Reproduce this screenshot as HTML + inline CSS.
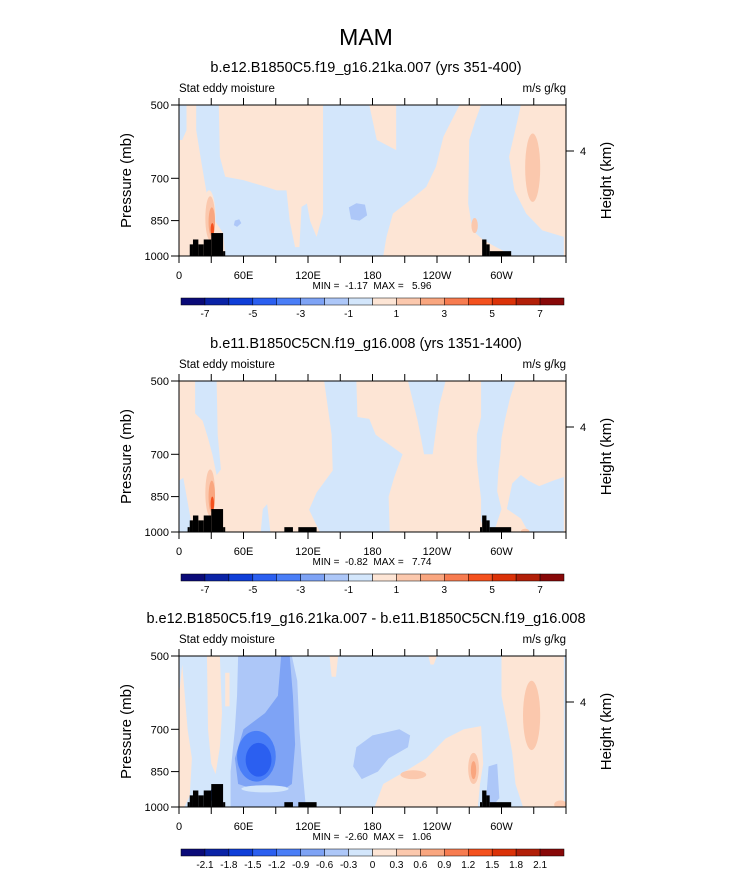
<!DOCTYPE html>
<html><head><meta charset="utf-8"><style>
body{margin:0;background:#fff;}
svg{display:block;font-family:"Liberation Sans",sans-serif;}
</style></head><body>
<svg id="fig" width="733" height="872" viewBox="0 0 733 872" xmlns="http://www.w3.org/2000/svg">
<text x="366" y="45" font-size="23" text-anchor="middle">MAM</text>
</svg>
<script>
// ---- data ----
const lonTicks = [0,60,120,180,240,300];
const lonLabels = ["0","60E","120E","180","120W","60W"];
const presTicks = [500,700,850,1000];
const panelTitles = ["b.e12.B1850C5.f19_g16.21ka.007 (yrs 351-400)","b.e11.B1850C5CN.f19_g16.008 (yrs 1351-1400)","b.e12.B1850C5.f19_g16.21ka.007 - b.e11.B1850C5CN.f19_g16.008"];
const minVals = ["-1.17","-0.82","-2.60"];
const maxVals = ["5.96","7.74","1.06"];
const cbLabels1 = ["-7","","-5","","-3","","-1","","1","","3","","5","","7"];
const cbLabels3 = ["-2.1","-1.8","-1.5","-1.2","-0.9","-0.6","-0.3","0","0.3","0.6","0.9","1.2","1.5","1.8","2.1"];
const palette = ["#0a0a78","#0a23a6","#0f3ed8","#2b5ff0","#4a7ef7","#7ea3f5","#adc7f8","#d3e6fb","#fde5d5","#fbc8ad","#f9a67f","#f77c50","#f4511e","#db3208","#b21f08","#880808"];
// topography: [lonStart, lonEnd, topPressure]
const topo1 = [[10,13,948],[13,18,927],[18,23,948],[23,30,927],[30,41,900],[41,43,978],[282,286,927],[286,289,948],[289,309,978]];
const topo2 = [[8,10,978],[10,13,948],[13,18,927],[18,23,948],[23,30,927],[30,41,900],[41,43,978],[98,106,978],[111,128,978],[280,282,978],[282,286,927],[286,289,948],[289,309,978]];
const topo3 = topo2;
// contour regions: polygons of [lon, pressure]
const bg = ["#fde5d5","#fde5d5","#d3e6fb"];
const regions1 = [
 {c:7,pts:[[0,500],[7,500],[7,561],[3,587],[0,587]]},
 {c:7,pts:[[16,500],[37,500],[38,634],[43,695],[60,706],[81,728],[91,740],[100,740],[103,852],[108,960],[112,960],[114,798],[119,786],[122,852],[128,916],[134,823],[134,500],[177,500],[184,587],[202,615],[202,500],[261,500],[246,578],[239,664],[230,728],[215,774],[199,823],[193,916],[190,1000],[43,1000],[41,900],[29,823],[21,654],[16,561]]},
 {c:7,pts:[[281,500],[318,500],[315,535],[307,634],[312,740],[323,823],[338,889],[358,916],[358,1000],[311,1000],[295,960],[283,929],[273,889],[269,786],[270,587],[276,535]]},
 {c:6,pts:[[158,800],[165,785],[173,790],[175,830],[168,850],[160,845]]},
 {c:6,pts:[[52,850],[56,845],[58,860],[54,875],[51,868]]}
];
const ellipses1 = [
 {c:9,lon:329,rx:7,p0:570,p1:780},
 {c:9,lon:275,rx:3,p0:840,p1:900},
 {c:8,lon:28,rx:6,p0:740,p1:950},
 {c:9,lon:29,rx:4.5,p0:760,p1:930},
 {c:10,lon:30.5,rx:3,p0:800,p1:915},
 {c:12,lon:31,rx:1.6,p0:860,p1:910}
];
const regions2 = [
 {c:7,pts:[[15,500],[35,500],[36,640],[39,750],[35,770],[31,700],[27,650],[22,600],[15,580]]},
 {c:7,pts:[[0,790],[4,780],[13,1000],[0,1000]]},
 {c:7,pts:[[135,500],[165,500],[166,590],[177,595],[183,640],[208,700],[200,780],[195,850],[196,1000],[131,1000],[121,903],[128,834],[143,754],[142,640]]},
 {c:7,pts:[[213,500],[248,500],[242,560],[238,650],[236,700],[228,700],[222,600]]},
 {c:7,pts:[[281,500],[313,500],[308,540],[303,600],[300,650],[299,700],[297,760],[296,830],[300,900],[293,1000],[285,1000],[281,950],[281,860],[279,790],[277,720],[277,640],[281,590]]},
 {c:7,pts:[[305,900],[310,800],[318,770],[325,790],[335,810],[348,790],[358,777],[358,1000],[325,1000],[318,940]]},
 {c:7,pts:[[78,900],[82,880],[85,1000],[76,1000]]}
];
const ellipses2 = [
 {c:8,lon:28,rx:6,p0:740,p1:950},
 {c:9,lon:29,rx:4.5,p0:750,p1:930},
 {c:10,lon:30.5,rx:3,p0:790,p1:915},
 {c:12,lon:31,rx:1.6,p0:850,p1:910},
 {c:9,lon:322,rx:4,p0:985,p1:1010}
];
const regions3 = [
 {c:8,pts:[[0,600],[3,520],[8,700],[12,800],[10,950],[5,1000],[0,1000]]},
 {c:8,pts:[[26,500],[38,500],[40,650],[38,760],[34,860],[30,820],[27,700]]},
 {c:8,pts:[[43,540],[47,540],[47,630],[43,630]]},
 {c:6,pts:[[55,500],[105,500],[110,560],[112,700],[115,850],[118,1000],[48,1000],[48,850],[52,700],[54,600]]},
 {c:5,pts:[[95,500],[103,500],[106,600],[108,750],[105,900],[95,930],[75,930],[55,900],[52,800],[60,700],[80,650],[92,600]]},
 {c:6,pts:[[165,760],[180,720],[205,700],[215,720],[213,760],[195,800],[185,850],[170,880],[162,830]]},
 {c:8,pts:[[182,1000],[190,900],[210,850],[230,800],[248,730],[265,700],[281,690],[283,820],[280,900],[278,1000]]},
 {c:8,pts:[[300,500],[358,500],[358,1000],[320,1000],[313,900],[310,780],[305,680],[300,600]]},
 {c:8,pts:[[140,500],[148,500],[146,550],[142,550]]},
 {c:8,pts:[[232,500],[240,500],[237,520],[234,520]]},
 {c:6,pts:[[288,830],[296,820],[298,960],[291,1000],[286,950]]}
];
const ellipses3 = [
 {c:4,lon:72,rx:18,p0:705,p1:890},
 {c:3,lon:74,rx:12,p0:745,p1:870},
 {c:7,lon:80,rx:22,p0:905,p1:935},
 {c:9,lon:274,rx:5,p0:780,p1:900},
 {c:10,lon:274,rx:2.5,p0:810,p1:880},
 {c:9,lon:218,rx:12,p0:845,p1:880},
 {c:9,lon:328,rx:8,p0:560,p1:770},
 {c:3,lon:31,rx:2,p0:920,p1:975},
 {c:3,lon:300,rx:2,p0:985,p1:1010},
 {c:9,lon:355,rx:6,p0:970,p1:1010}
];
const panels=[
 {top:105,regions:regions1,ellipses:ellipses1,topo:topo1,cb:cbLabels1},
 {top:381,regions:regions2,ellipses:ellipses2,topo:topo2,cb:cbLabels1},
 {top:656,regions:regions3,ellipses:ellipses3,topo:topo3,cb:cbLabels3}
];
// ---- drawing ----
const NS="http://www.w3.org/2000/svg";
const svg=document.getElementById('fig');
const X0=179,X1=566,H=151;
function mk(tag,attrs,parent){const e=document.createElementNS(NS,tag);for(const k in attrs)e.setAttribute(k,attrs[k]);(parent||svg).appendChild(e);return e;}
panels.forEach((P,i)=>{
 const top=P.top,bot=top+H;
 const xs=lon=>X0+lon/360*(X1-X0);
 const ys=p=>top+Math.log(p/500)/Math.log(2)*H;
 const g=mk('g',{});
 
 
 const cid='clip'+i;
 const cp=mk('clipPath',{id:cid},g);mk('rect',{x:X0,y:top,width:X1-X0,height:H},cp);
 const pl=mk('g',{'clip-path':'url(#'+cid+')'},g);
 const bgr=mk('rect',{x:X0,y:top,width:X1-X0,height:H,fill:bg[i]},pl);
 
 
 P.regions.forEach(r=>{
  const pg=mk('polygon',{points:r.pts.map(q=>xs(q[0])+','+ys(q[1])).join(' '),fill:palette[r.c]},pl);
  
  
 });
 P.ellipses.forEach(e=>{
  const y0=ys(e.p0),y1=ys(e.p1);
  const el=mk('ellipse',{cx:xs(e.lon),cy:(y0+y1)/2,rx:xs(e.rx)-X0,ry:(y1-y0)/2,fill:palette[e.c]},pl);
  
  
 });
 P.topo.forEach(t=>{
  const r=mk('rect',{x:xs(t[0]),y:ys(t[2]),width:xs(t[1])-xs(t[0]),height:bot-ys(t[2]),fill:'#000'},pl);
  
  
 });
 mk('rect',{x:X0,y:top,width:X1-X0,height:H,fill:'none',stroke:'#000','stroke-width':1},g);
 for(let l=0;l<=360;l+=30){
  mk('line',{x1:xs(l),x2:xs(l),y1:top,y2:top-7,stroke:'#000'},g);
  mk('line',{x1:xs(l),x2:xs(l),y1:bot,y2:bot+7,stroke:'#000'},g);
 }
 lonTicks.forEach((l,k)=>{
  const t=mk('text',{x:xs(l),y:bot+23,'font-size':11,'text-anchor':'middle'},g);t.textContent=lonLabels[k];
  
  
 });
 presTicks.forEach(p=>{
  mk('line',{x1:X0,x2:X0-8,y1:ys(p),y2:ys(p),stroke:'#000'},g);
  const t=mk('text',{x:X0-10,y:ys(p)+4,'font-size':11,'text-anchor':'end'},g);t.textContent=p;
  
  
 });
 mk('line',{x1:X1,x2:X1+8,y1:top+46,y2:top+46,stroke:'#000'},g);
 const h4=mk('text',{x:X1+14,y:top+50,'font-size':11},g);h4.textContent='4';
 
 
 const yt=mk('text',{x:0,y:0,'font-size':15,'text-anchor':'middle',transform:`translate(131,${top+H/2}) rotate(-90)`},g);yt.textContent='Pressure (mb)';
 
 
 const yt2=mk('text',{x:0,y:0,'font-size':15,'text-anchor':'middle',transform:`translate(611,${top+H/2}) rotate(-90)`},g);yt2.textContent='Height (km)';
 
 
 const st=mk('text',{x:366,y:top-33,'font-size':14.5,'text-anchor':'middle'},g);st.textContent=panelTitles[i];
 
 
 const lt=mk('text',{x:X0,y:top-13,'font-size':11.5},g);lt.textContent='Stat eddy moisture';
 
 
 const rt=mk('text',{x:X1,y:top-13,'font-size':11.5,'text-anchor':'end'},g);rt.textContent='m/s g/kg';
 
 
 const mm=mk('text',{x:372,y:bot+33,'font-size':10,'text-anchor':'middle',style:'white-space:pre'},g);mm.textContent='MIN =  '+minVals[i]+'  MAX =   '+maxVals[i];
 
 
 const cy=bot+42, cw=(564-181)/16;
 palette.forEach((c,k)=>{
  const r=mk('rect',{x:181+k*cw,y:cy,width:cw,height:7,fill:c,stroke:'#000','stroke-width':0.5},g);
  
  
 });
 P.cb.forEach((lab,k)=>{
  if(!lab)return;
  const t=mk('text',{x:181+(k+1)*cw,y:cy+19,'font-size':10,'text-anchor':'middle'},g);t.textContent=lab;
  
  
 });
});
</script>
</body></html>
